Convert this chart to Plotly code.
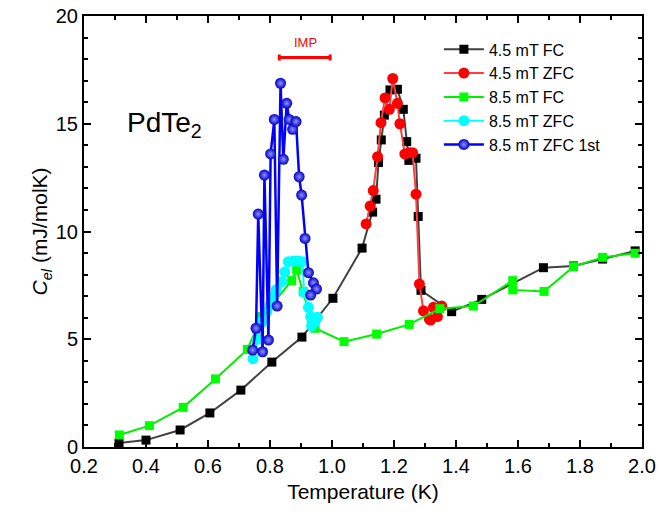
import plotly.graph_objects as go

# 4.5 mT FC (black squares)
fc45_T = [0.313, 0.40, 0.51, 0.606, 0.706, 0.806, 0.903, 1.003, 1.097, 1.131, 1.142, 1.150, 1.159,
          1.169, 1.187, 1.211, 1.230, 1.241, 1.248, 1.271, 1.278, 1.287, 1.386, 1.483, 1.682, 1.779,
          1.873, 1.978]
fc45_C = [0.19, 0.32, 0.79, 1.58, 2.64, 3.94, 5.1, 6.9, 9.23, 10.9, 11.5, 13.2, 14.25,
          15.4, 16.57, 16.6, 15.67, 14.17, 13.3, 13.4, 10.7, 7.27, 6.28, 6.85, 8.32, 8.4,
          8.72, 9.1]

# 4.5 mT ZFC (red circles)
zfc45_T = [1.110, 1.123, 1.133, 1.147, 1.158, 1.171, 1.185, 1.196, 1.211, 1.219, 1.235, 1.249,
           1.260, 1.271, 1.282, 1.295, 1.314, 1.318, 1.340, 1.327, 1.354]
zfc45_C = [10.35, 11.18, 11.9, 13.47, 15.05, 16.2, 15.67, 17.1, 15.95, 15.0, 13.6, 13.66,
           13.66, 11.73, 7.56, 6.32, 5.93, 5.89, 6.05, 6.48, 6.54]

# 8.5 mT FC (green squares)
fc85_T = [0.314, 0.411, 0.52, 0.624, 0.727, 0.773, 0.81, 0.87, 0.886, 0.907, 0.934, 0.945,
          1.039, 1.144, 1.249, 1.348, 1.456, 1.583, 1.583, 1.684, 1.779, 1.873, 1.978]
fc85_C = [0.56, 0.99, 1.84, 3.16, 4.53, 6.05, 6.68, 7.72, 8.21, 7.21, 5.82, 5.51,
          4.89, 5.24, 5.69, 6.42, 6.54, 7.72, 7.29, 7.22, 8.37, 8.8, 8.99]

# 8.5 mT ZFC (cyan circles)
zfc85_T = [0.745, 0.76, 0.775, 0.79, 0.80, 0.811, 0.82, 0.838, 0.848, 0.859, 0.875, 0.891,
           0.905, 0.91, 0.924, 0.931, 0.934, 0.945, 0.953]
zfc85_C = [4.1, 5.0, 5.8, 6.3, 6.6, 7.0, 7.3, 7.67, 8.13, 8.6, 8.63, 8.63,
           8.6, 7.16, 6.48, 6.05, 5.61, 5.8, 6.02]

# 8.5 mT ZFC 1st (blue spheres)
zfc85b_T = [0.744, 0.755, 0.762, 0.776, 0.782, 0.795, 0.802, 0.814, 0.823, 0.834, 0.843, 0.854,
            0.862, 0.873, 0.884, 0.894, 0.902, 0.913, 0.924, 0.94, 0.95, 0.931]
zfc85b_C = [4.5, 5.51, 10.81, 4.42, 12.62, 4.96, 13.6, 15.2, 6.54, 16.88, 13.35, 15.95,
            15.2, 14.74, 15.1, 12.54, 11.69, 9.68, 8.09, 7.62, 7.33, 7.05]

# IMP range bar
imp_T = [0.912]
imp_C = [18.08]
imp_half = [0.082]

FONT = "Liberation Sans, Arial, sans-serif"

fig = go.Figure()
fig.add_trace(go.Scatter(x=fc45_T, y=fc45_C, mode="lines+markers", name="4.5 mT FC",
                         line=dict(color="#404040", width=2),
                         marker=dict(symbol="square", size=9, color="black")))
fig.add_trace(go.Scatter(x=zfc45_T, y=zfc45_C, mode="lines+markers", name="4.5 mT ZFC",
                         line=dict(color="#ff4040", width=2),
                         marker=dict(symbol="circle", size=11, color="#ff0000")))
fig.add_trace(go.Scatter(x=fc85_T, y=fc85_C, mode="lines+markers", name="8.5 mT FC",
                         line=dict(color="#00ee00", width=2),
                         marker=dict(symbol="square", size=9, color="#00ff00")))
fig.add_trace(go.Scatter(x=zfc85_T, y=zfc85_C, mode="lines+markers", name="8.5 mT ZFC",
                         line=dict(color="#00ffff", width=2),
                         marker=dict(symbol="circle", size=11, color="#00ffff")))
fig.add_trace(go.Scatter(x=zfc85b_T, y=zfc85b_C, mode="lines+markers", name="8.5 mT ZFC 1st",
                         line=dict(color="#0000ff", width=2.5),
                         marker=dict(symbol="circle", size=11, color="#0000c8",
                                     gradient=dict(type="radial", color="#9090ff"),
                                     line=dict(width=0))))
fig.add_trace(go.Scatter(x=imp_T, y=imp_C, mode="markers", showlegend=False,
                         marker=dict(size=1, color="red", opacity=0),
                         error_x=dict(type="data", array=imp_half, color="#ff0000",
                                      thickness=3, width=3)))

fig.add_annotation(x=0.913, y=18.75, text="IMP", showarrow=False,
                   font=dict(family=FONT, size=13, color="#ff0000"))
fig.add_annotation(x=0.461, y=14.95, text="PdTe<sub>2</sub>", showarrow=False,
                   font=dict(family=FONT, size=28, color="black"))

axis_common = dict(showgrid=False, zeroline=False, showline=True, linecolor="black",
                   linewidth=2, mirror="ticks", ticks="inside", tickwidth=2, ticklen=7,
                   tickcolor="black", automargin=False,
                   tickfont=dict(family=FONT, size=20, color="black"))
fig.update_xaxes(range=[0.2, 2.0], dtick=0.2, tick0=0.2, tickformat=".1f",
                 minor=dict(dtick=0.1, tick0=0.2, ticks="inside", ticklen=4, tickwidth=2, tickcolor="black"),
                 title=dict(text="Temperature (K)", font=dict(family=FONT, size=21, color="black"),
                            standoff=8),
                 **axis_common)
fig.update_yaxes(range=[0, 20], dtick=5,
                 minor=dict(dtick=1, ticks="inside", ticklen=4, tickwidth=2, tickcolor="black"),
                 title=dict(text="<i>C</i><sub><i>el</i></sub> (mJ/molK)",
                            font=dict(family=FONT, size=21, color="black"), standoff=2),
                 **axis_common)

fig.update_layout(
    width=659, height=529,
    margin=dict(l=84, r=17, t=16, b=82),
    paper_bgcolor="white", plot_bgcolor="white",
    legend=dict(x=0.636, y=0.962, xanchor="left", yanchor="top",
                bgcolor="rgba(0,0,0,0)", font=dict(family=FONT, size=16, color="black"),
                tracegroupgap=0, itemwidth=40),
    showlegend=True,
)

fig.write_html("out.html", config={"displayModeBar": False},
               post_script="document.body.style.margin='0';document.body.style.padding='0';")
